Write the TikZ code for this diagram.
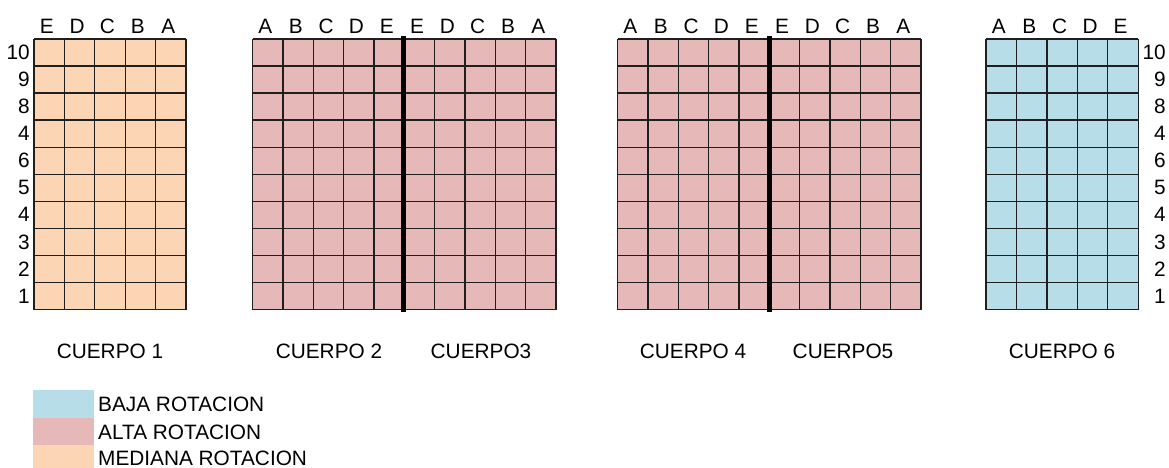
\documentclass[tikz,border=0pt]{standalone}
\usepackage{fontspec}
\setmainfont{Liberation Sans}
\definecolor{mediana}{HTML}{FCD5B4}
\definecolor{alta}{HTML}{E6B8B7}
\definecolor{baja}{HTML}{B7DEE8}
\tikzset{
  lbl/.style={inner sep=0pt, font=\fontsize{20.8}{23}\selectfont, text=black},
  gridln/.style={line width=1.3pt, draw=black!88},
  divider/.style={line width=5pt, draw=black},
}
\newcommand\cuerpogrid[4]{%
  \fill[#4] (#1,39) rectangle ({#1+#2*#3},309.5);
  \foreach \i in {0,...,#2} \draw[gridln] ({#1+\i*#3},39) -- ({#1+\i*#3},309.5);
  \foreach \j in {0,...,10} \draw[gridln] (#1,{39+\j*27.05}) -- ({#1+#2*#3},{39+\j*27.05});
}
\begin{document}
\begin{tikzpicture}[x=1pt,y=-1pt]
\useasboundingbox[fill=white] (0,0) rectangle (1169,468);
% grids
\cuerpogrid{34}{5}{30.4}{mediana}
\cuerpogrid{252.7}{10}{30.33}{alta}
\cuerpogrid{617.7}{10}{30.33}{alta}
\cuerpogrid{986}{5}{30.45}{baja}
\draw[divider] (403.3,36) -- (403.3,312);
\draw[divider] (769,36) -- (769,312);
% headers
\foreach \l [count=\k] in {E,D,C,B,A}
  \node[lbl] (ha\k) at ({34+(\k-0.5)*30.4-2.5},26) {\l};
\foreach \l [count=\k] in {A,B,C,D,E,E,D,C,B,A}
  \node[lbl] (hb\k) at ({252.7+(\k-0.5)*30.33-2.5},26) {\l};
\foreach \l [count=\k] in {A,B,C,D,E,E,D,C,B,A}
  \node[lbl] (hc\k) at ({617.7+(\k-0.5)*30.33-2.5},26) {\l};
\foreach \l [count=\k] in {A,B,C,D,E}
  \node[lbl] (hd\k) at ({986+(\k-0.5)*30.45-2.5},26) {\l};
% row labels
\foreach \r [count=\k] in {10,9,8,4,6,5,4,3,2,1}
  \node[lbl, anchor=east] (rl\k) at (30,{39+(\k-0.5)*27.05}) {\r};
\foreach \r [count=\k] in {10,9,8,4,6,5,4,3,2,1}
  \node[lbl, anchor=east] (rr\k) at (1166,{39+(\k-0.5)*27.05}) {\r};
% body labels
\node[lbl] (c1) at (110,351) {CUERPO 1};
\node[lbl] (c2) at (329,351) {CUERPO 2};
\node[lbl] (c3) at (481,351) {CUERPO3};
\node[lbl] (c4) at (693,351) {CUERPO 4};
\node[lbl] (c5) at (843,351) {CUERPO5};
\node[lbl] (c6) at (1062,351) {CUERPO 6};
% legend
\fill[baja] (33,390) rectangle (94,417.5);
\fill[alta] (33,417.5) rectangle (94,445);
\fill[mediana] (33,445) rectangle (94,472);
\node[lbl, anchor=west] (lb) at (98,404.5) {BAJA ROTACION};
\node[lbl, anchor=west] (la) at (98,432.5) {ALTA ROTACION};
\node[lbl, anchor=west] (lm) at (98,458.5) {MEDIANA ROTACION};
\end{tikzpicture}
\end{document}
